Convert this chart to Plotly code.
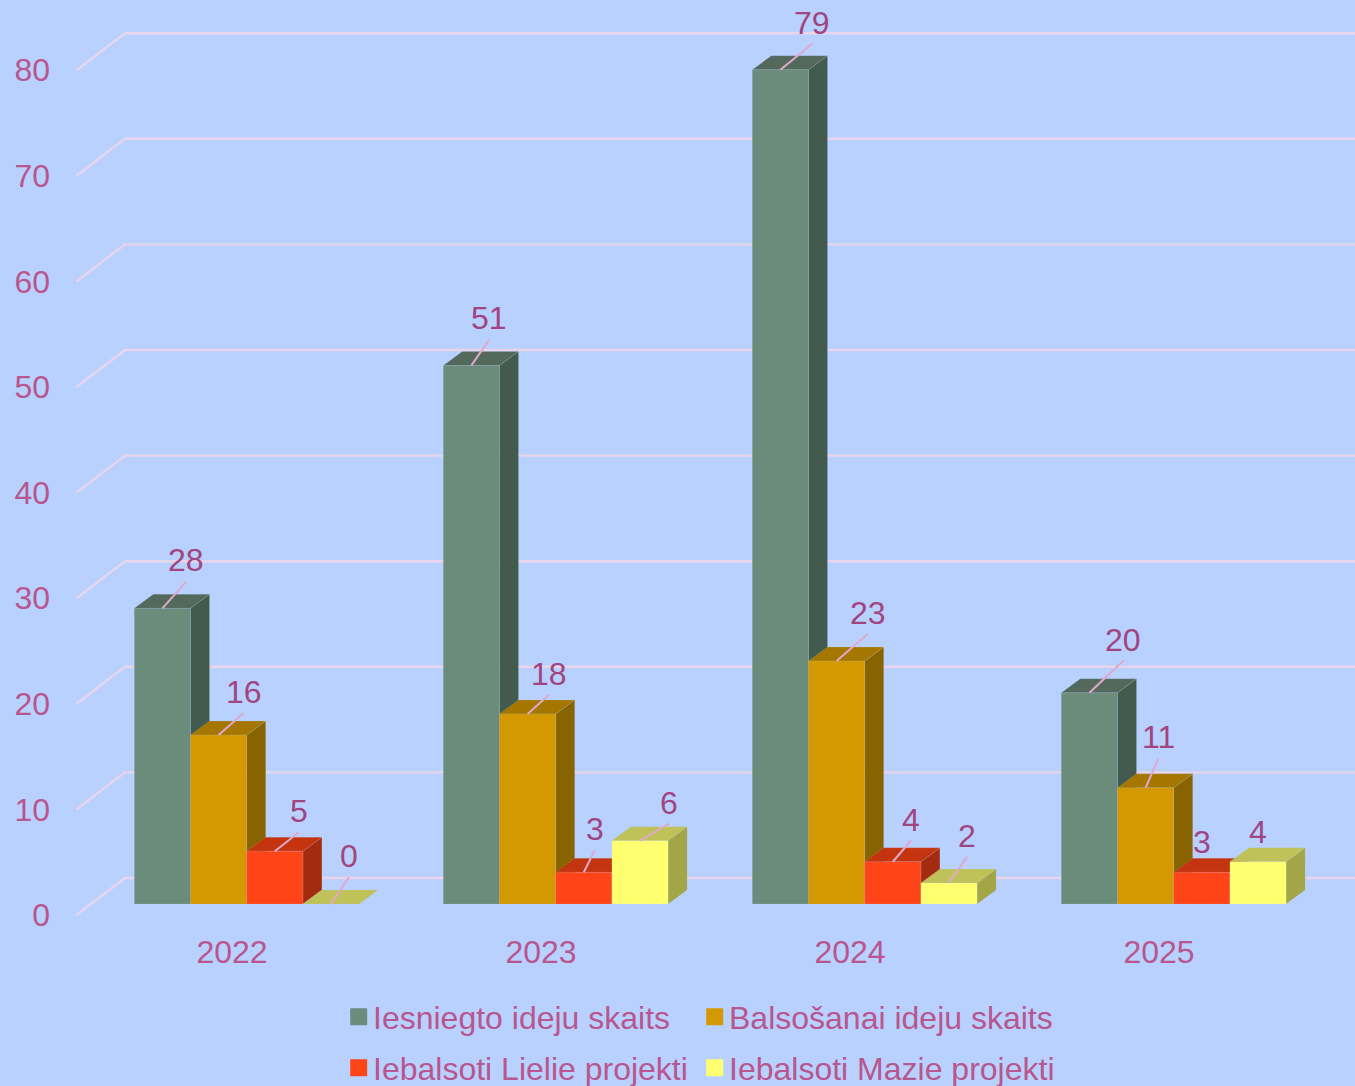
import plotly.graph_objects as go

# ---- data ----
CATEGORIES = ["2022", "2023", "2024", "2025"]
SERIES_NAMES = ["Iesniegto ideju skaits", "Balsošanai ideju skaits",
                "Iebalsoti Lielie projekti", "Iebalsoti Mazie projekti"]
SUBMITTED = [28, 51, 79, 20]
FOR_VOTE = [16, 18, 23, 11]
LARGE = [5, 3, 4, 3]
SMALL = [0, 6, 2, 4]
Y_TICKS = [0, 10, 20, 30, 40, 50, 60, 70, 80]

# ---- style ----
SERIES_VALUES = [SUBMITTED, FOR_VOTE, LARGE, SMALL]
FRONT = ["#6b8b7b", "#d49800", "#ff4517", "#ffff70"]
SIDE = ["#435b4f", "#876400", "#a32b0f", "#a2a647"]
TOP = ["#53695c", "#a57700", "#c4340f", "#bfc258"]
BG = "#b9d1ff"
GRID = "#e8d5ea"
LEADER = "#e0a9cc"
AXIS_TEXT = "#b8568e"
LABEL_TEXT = "#a0457f"
FONT = "Liberation Sans"
W, H = 1355, 1086
LEFT, BOTTOM = 51, 156
CAT_PX = 309.0           # px per category
CAT0_PX = 232.0          # px of first category
VAL_PX = 10.56           # px per value unit
ZERO_PX = 915.0          # px of value 0 on the front of the wall

BAR_W = 56.2 / CAT_PX
BAR_START = (134.3 - CAT0_PX) / CAT_PX
BAR_DX, BAR_DY = 19.0 / CAT_PX, 14.0 / VAL_PX
BAR_LIFT = 11.0 / VAL_PX
WALL_X0 = (76.5 - CAT0_PX) / CAT_PX
WALL_X1 = (125.0 - CAT0_PX) / CAT_PX
WALL_DY = 37.0 / VAL_PX
X_RANGE = [(LEFT - CAT0_PX) / CAT_PX, (W - CAT0_PX) / CAT_PX]
Y_RANGE = [(ZERO_PX - (H - BOTTOM)) / VAL_PX, ZERO_PX / VAL_PX]

# pixel offset of each data label from the top of its bar (by series, by category)
LABEL_OFFSETS = [
    [(24, -48), (18, -47), (32, -47), (34, -53)],
    [(25, -43), (21, -40), (31, -48), (13, -51)],
    [(24, -40), (11, -43), (18, -42), (0, -30)],
    [(18, -48), (29, -38), (18, -47), (0, -30)],
]
LEADER_GAP_PX = 21       # leader ends this far below the label centre
LEADER_MIN_PX = 35       # labels closer than this to their bar have no leader
LEGEND_POS = [(341, 1017), (697, 1017), (341, 1068), (697, 1068)]

fig = go.Figure()

# wall grid lines
gx, gy = [], []
for t in Y_TICKS:
    gx += [WALL_X0, WALL_X1, X_RANGE[1], None]
    gy += [t, t + WALL_DY, t + WALL_DY, None]
fig.add_trace(go.Scatter(x=gx, y=gy, mode="lines", line=dict(color=GRID, width=2.4),
                         showlegend=False, hoverinfo="skip"))


def face(xs, ys, color):
    fig.add_trace(go.Scatter(
        x=xs + xs[:1], y=ys + ys[:1], mode="lines", fill="toself", fillcolor=color,
        line=dict(color="rgba(190,205,235,0.15)", width=1),
        showlegend=False, hoverinfo="skip"))


# bars, painted left to right
annotations = []
lx, ly = [], []
for c, cat in enumerate(CATEGORIES):
    for s, values in enumerate(SERIES_VALUES):
        v = values[c]
        x0 = c + BAR_START + s * BAR_W
        x1 = x0 + BAR_W
        y0 = BAR_LIFT
        y1 = BAR_LIFT + v
        if v > 0:
            face([x1, x1 + BAR_DX, x1 + BAR_DX, x1],
                 [y0, y0 + BAR_DY, y1 + BAR_DY, y1], SIDE[s])
        face([x0, x1, x1 + BAR_DX, x0 + BAR_DX],
             [y1, y1, y1 + BAR_DY, y1 + BAR_DY], TOP[s])
        if v > 0:
            face([x0, x1, x1, x0], [y0, y0, y1, y1], FRONT[s])
        ax, ay = LABEL_OFFSETS[s][c]
        xm = (x0 + x1) / 2
        annotations.append(dict(
            x=xm, y=y1, xref="x", yref="y", text=str(v), showarrow=False,
            xshift=ax, yshift=-ay,
            font=dict(family=FONT, size=32, color=LABEL_TEXT)))
        if -ay >= LEADER_MIN_PX:
            lx += [xm, xm + ax / CAT_PX, None]
            ly += [y1, y1 + (-ay - LEADER_GAP_PX) / VAL_PX, None]

fig.add_trace(go.Scatter(x=lx, y=ly, mode="lines", line=dict(color=LEADER, width=2),
                         showlegend=False, hoverinfo="skip"))

# legend entries
legend_layout = {}
for s, name in enumerate(SERIES_NAMES):
    key = "legend" if s == 0 else f"legend{s + 1}"
    fig.add_trace(go.Scatter(
        x=[None], y=[None], mode="markers", name=name, legend=key,
        marker=dict(symbol="square", size=17, color=FRONT[s]), showlegend=True))
    px, py = LEGEND_POS[s]
    legend_layout[key] = dict(
        x=(px - LEFT) / (W - LEFT), y=((H - BOTTOM) - py) / (H - BOTTOM),
        xanchor="left", yanchor="middle", bgcolor="rgba(0,0,0,0)", borderwidth=0,
        indentation=-8, font=dict(family=FONT, size=32, color=AXIS_TEXT))

fig.update_layout(
    width=W, height=H, paper_bgcolor=BG, plot_bgcolor=BG,
    margin=dict(l=LEFT, r=0, t=0, b=BOTTOM, autoexpand=False),
    font=dict(family=FONT, size=32, color=AXIS_TEXT),
    annotations=annotations, showlegend=True,
    xaxis=dict(range=X_RANGE, tickmode="array", tickvals=list(range(len(CATEGORIES))),
               ticktext=CATEGORIES, showgrid=False, zeroline=False, showline=False,
               ticks="", fixedrange=True,
               tickfont=dict(family=FONT, size=32, color=AXIS_TEXT)),
    yaxis=dict(range=Y_RANGE, tickmode="array", tickvals=Y_TICKS, showgrid=False,
               zeroline=False, showline=False, ticks="", fixedrange=True,
               tickfont=dict(family=FONT, size=32, color=AXIS_TEXT)),
    **legend_layout,
)

fig.write_html(
    "out.html", config={"displayModeBar": False},
    post_script=(
        "document.body.style.margin='0';document.body.style.overflow='hidden';"
        f"document.body.style.background='{BG}';"
        "document.querySelectorAll('.legendpoints').forEach(function(g){"
        "g.setAttribute('transform',(g.getAttribute('transform')||'')+' translate(4.5,0) scale(1.06)');});"
    ))
